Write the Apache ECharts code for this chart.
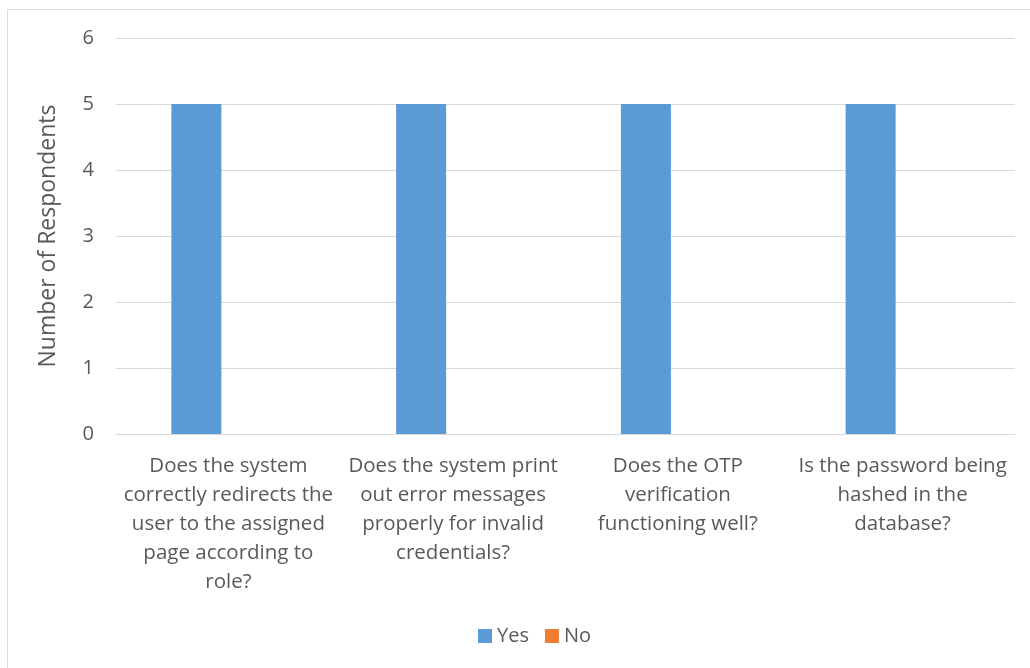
<!DOCTYPE html>
<html>
<head>
<meta charset="utf-8">
<script src="https://cdn.jsdelivr.net/npm/echarts@6/dist/echarts.min.js"></script>
<style>
  html, body { margin: 0; padding: 0; background: #fff; }
  #chart { width: 1030px; height: 668px; }
</style>
</head>
<body>
<div id="chart"></div>
<script>
const categories = [
  'Does the system\ncorrectly redirects the\nuser to the assigned\npage according to\nrole?',
  'Does the system print\nout error messages\nproperly for invalid\ncredentials?',
  'Does the OTP\nverification\nfunctioning well?',
  'Is the password being\nhashed in the\ndatabase?'
]
const yesValues = [5, 5, 5, 5]
const noValues = [0, 0, 0, 0]

const textColor = '#595959'
const fontFamily = '"Open Sans", Lato, sans-serif'

const chart = echarts.init(document.getElementById('chart'))

chart.setOption({
  animation: false,
  textStyle: { fontFamily },
  graphic: [{
    type: 'rect',
    shape: { x: 7.5, y: 9.5, width: 1100, height: 700 },
    style: { fill: 'none', stroke: '#d9d9d9', lineWidth: 1 },
    silent: true
  }],
  grid: { left: 116, right: 15, top: 38, bottom: 234 },
  legend: {
    bottom: 17,
    left: 473,
    itemWidth: 14,
    itemHeight: 14,
    itemGap: 16,
    icon: 'rect',
    textStyle: { color: textColor, fontSize: 20, fontFamily },
    data: ['Yes', 'No']
  },
  xAxis: {
    type: 'category',
    data: categories,
    axisLine: { lineStyle: { color: '#d9d9d9', width: 1 } },
    axisTick: { show: false },
    axisLabel: {
      color: textColor,
      fontSize: 20.5,
      lineHeight: 29,
      margin: 18,
      interval: 0,
      fontFamily
    }
  },
  yAxis: {
    type: 'value',
    min: 0,
    max: 6,
    interval: 1,
    name: 'Number of Respondents',
    nameLocation: 'middle',
    nameGap: 56,
    nameTextStyle: { color: textColor, fontSize: 23, fontFamily },
    axisLine: { show: false },
    axisTick: { show: false },
    axisLabel: { color: textColor, fontSize: 20, margin: 22, fontFamily },
    splitLine: { lineStyle: { color: '#d9d9d9', width: 1 } }
  },
  series: [
    {
      name: 'Yes',
      type: 'bar',
      data: yesValues,
      barWidth: 50,
      barGap: '28%',
      itemStyle: { color: '#5b9bd5' }
    },
    {
      name: 'No',
      type: 'bar',
      data: noValues,
      barWidth: 50,
      itemStyle: { color: '#ed7d31' }
    }
  ]
})
</script>
</body>
</html>
